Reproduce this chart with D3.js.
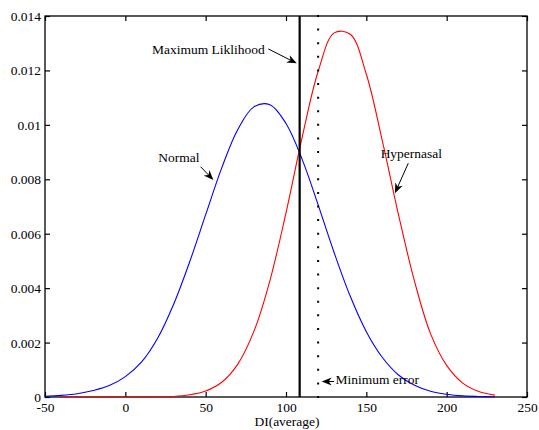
<!DOCTYPE html>
<html>
<head>
<meta charset="utf-8">
<script src="https://cdn.jsdelivr.net/npm/d3@7"></script>
<style>
  html, body { margin: 0; padding: 0; background: #fff; }
  svg text { font-family: "Liberation Serif", "Times New Roman", "DejaVu Serif", serif !important; }
</style>
</head>
<body>
<svg id="chart" width="539" height="430"></svg>
<script>
// ---- data ----
const normalX = [-50,-40,-30,-20,-10,0,10,20,30,40,50,60,70,80,90,100,110,120,130,140,150,160,170,180,190,200,210,220,230];
const normalY = [0.00003,0.00006,0.00012,0.00024,0.00042,0.00075,0.00128,0.00215,0.00340,0.00496,0.00670,0.00842,0.00983,0.01066,0.01074,0.01005,0.00874,0.00706,0.00530,0.00370,0.00240,0.00145,0.00081,0.00043,0.00021,0.00010,0.00004,0.00002,0.00001];

const hyperX = [-40,-30,-20,-10,0,10,20,30,40,50,60,70,80,90,100,110,120,130,140,150,160,170,180,190,200,210,220,230];
const hyperY = [0,0,0,0,0,0,0.00001,0.00002,0.00008,0.00022,0.00054,0.00121,0.00241,0.00428,0.00677,0.00953,0.01196,0.01338,0.01333,0.01186,0.00940,0.00670,0.00425,0.00232,0.00116,0.00051,0.00020,0.00007];

const maxLikelihoodX = 108.5;
const minErrorX = 120;

const xTicks = [-50,0,50,100,150,200,250];
const xTickLabels = ["-50","0","50","100","150","200","250"];
const yTicks = [0,0.002,0.004,0.006,0.008,0.010,0.012,0.014];
const yTickLabels = ["0","0.002","0.004","0.006","0.008","0.01","0.012","0.014"];

const xLabel = "DI(average)";

// annotations: text anchor (data units), arrow tail and tip (data units)
const annTexts = ["Maximum Liklihood","Normal","Hypernasal","Minimum error"];
const annTextX = [16.6, 20.5, 158.9, 130.8];
const annTextY = [0.0126, 0.00862, 0.00877, 0.00048];
const annTailX = [89.0, 46.9, 176.1, 130.0];
const annTailY = [0.01279, 0.00846, 0.00859, 0.00057];
const annTipX  = [106.7, 54.8, 167.8, 122.2];
const annTipY  = [0.01226, 0.00797, 0.00749, 0.00057];

// ---- layout ----
const svg = d3.select("#chart");
const mLeft = 45, mRight = 527, mTop = 16, mBottom = 397;
const x = d3.scaleLinear().domain([-50, 250]).range([mLeft, mRight]);
const y = d3.scaleLinear().domain([0, 0.014]).range([mBottom, mTop]);
const fontSize = "13.5px";
const serif = '"Liberation Serif", "Times New Roman", serif';

// frame
svg.append("rect")
  .attr("x", mLeft).attr("y", mTop)
  .attr("width", mRight - mLeft).attr("height", mBottom - mTop)
  .attr("fill", "none").attr("stroke", "#000").attr("stroke-width", 1.3);

// axes with inward ticks
const tickLen = 5;
const gx = svg.append("g").attr("transform", `translate(0,${mBottom})`)
  .call(d3.axisBottom(x).tickValues(xTicks).tickFormat((d,i) => xTickLabels[i]).tickSizeInner(-tickLen).tickSizeOuter(0));
const gxTop = svg.append("g").attr("transform", `translate(0,${mTop})`)
  .call(d3.axisTop(x).tickValues(xTicks).tickFormat("").tickSizeInner(-tickLen).tickSizeOuter(0));
const gy = svg.append("g").attr("transform", `translate(${mLeft},0)`)
  .call(d3.axisLeft(y).tickValues(yTicks).tickFormat((d,i) => yTickLabels[i]).tickSizeInner(-tickLen).tickSizeOuter(0).tickPadding(4));
const gyR = svg.append("g").attr("transform", `translate(${mRight},0)`)
  .call(d3.axisRight(y).tickValues(yTicks).tickFormat("").tickSizeInner(-tickLen).tickSizeOuter(0));

[gx, gxTop, gy, gyR].forEach(g => {
  g.attr("font-family", serif).attr("font-size", fontSize);
  g.select(".domain").remove();
  g.selectAll(".tick line").attr("stroke", "#000").attr("stroke-width", 1.2);
  g.selectAll("text").attr("font-family", serif)
    .attr("font-size", fontSize).attr("fill", "#000");
});
gx.selectAll(".tick text").attr("dy", null).attr("y", 15);
gy.selectAll(".tick text").attr("dy", "0.33em");

// x label
svg.append("text")
  .attr("x", (mLeft + mRight) / 2 + 1).attr("y", 426)
  .attr("text-anchor", "middle").attr("font-family", serif).attr("font-size", fontSize).attr("fill", "#000")
  .text(xLabel);

// curves
const line = d3.line().x(d => x(d[0])).y(d => y(d[1])).curve(d3.curveCatmullRom.alpha(0.5));
svg.append("path")
  .datum(normalX.map((v, i) => [v, normalY[i]]))
  .attr("d", line).attr("fill", "none").attr("stroke", "#0000ff").attr("stroke-width", 1.1);
svg.append("path")
  .datum(hyperX.map((v, i) => [v, hyperY[i]]))
  .attr("d", line).attr("fill", "none").attr("stroke", "#ff0000").attr("stroke-width", 1.1);

// maximum likelihood boundary (solid thick)
svg.append("line")
  .attr("x1", x(maxLikelihoodX)).attr("x2", x(maxLikelihoodX))
  .attr("y1", y(0)).attr("y2", y(0.014))
  .attr("stroke", "#000").attr("stroke-width", 2.2);

// minimum error boundary (sparse dots every 0.0005)
const step = y(0) - y(0.0005);
svg.append("line")
  .attr("x1", x(minErrorX)).attr("x2", x(minErrorX))
  .attr("y1", y(0) + 1).attr("y2", y(0.014) - 1)
  .attr("stroke", "#000").attr("stroke-width", 2)
  .attr("stroke-dasharray", `2,${step - 2}`);

// annotations
annTexts.forEach((t, i) => {
  svg.append("text")
    .attr("x", x(annTextX[i])).attr("y", y(annTextY[i]))
    .attr("font-family", serif).attr("font-size", fontSize).attr("fill", "#000")
    .text(t);
  const x0 = x(annTailX[i]), y0 = y(annTailY[i]);
  const x1 = x(annTipX[i]), y1 = y(annTipY[i]);
  const ang = Math.atan2(y1 - y0, x1 - x0);
  const L = 10, W = 4, N = 3;
  const ux = Math.cos(ang), uy = Math.sin(ang);
  const px = -uy, py = ux;
  const bx = x1 - ux * L, by = y1 - uy * L;
  svg.append("line")
    .attr("x1", x0).attr("y1", y0)
    .attr("x2", x1 - ux * 4).attr("y2", y1 - uy * 4)
    .attr("stroke", "#000").attr("stroke-width", 1);
  const pts = [
    [x1, y1],
    [bx + px * W, by + py * W],
    [x1 - ux * (L - N), y1 - uy * (L - N)],
    [bx - px * W, by - py * W]
  ];
  svg.append("polygon")
    .attr("points", pts.map(p => p.join(",")).join(" "))
    .attr("fill", "#000");
});
</script>
</body>
</html>
